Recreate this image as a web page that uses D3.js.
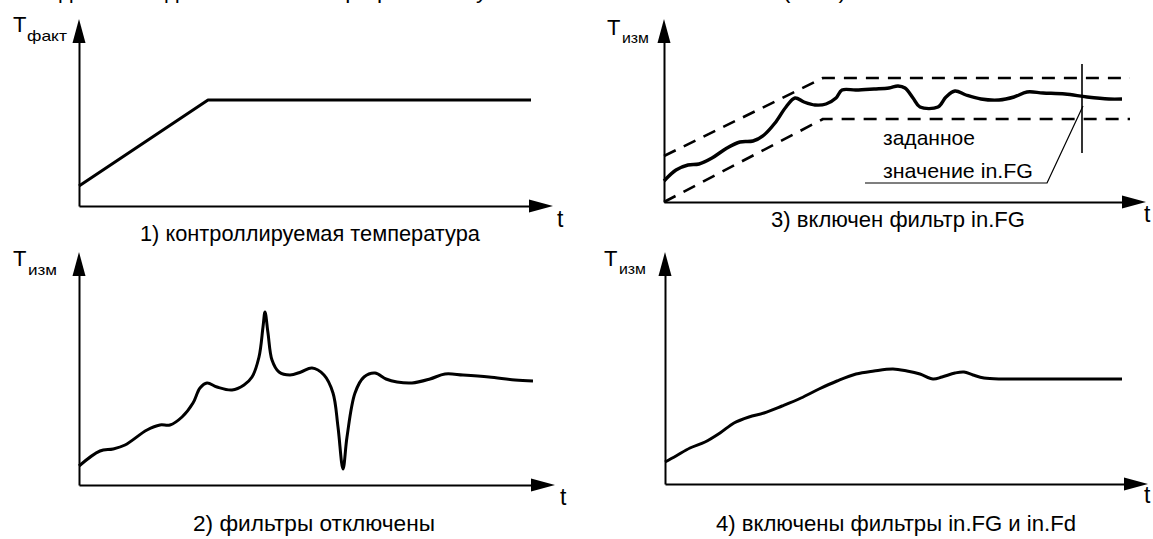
<!DOCTYPE html>
<html><head><meta charset="utf-8">
<script src="https://cdn.jsdelivr.net/npm/d3@7"></script>
<style>
html,body{margin:0;padding:0;background:#fff;overflow:hidden}
svg{display:block}
text{font-family:"Liberation Sans Narrow","Liberation Sans",Arial,sans-serif;fill:#000}
</style>
</head><body>
<svg id="c" width="1153" height="539"></svg>
<script>
// ---------- texts ----------
const heading = "Поведение входной величины при работе и усилении сигнала в каналах (ТРМ)";
const captions = ["1) контроллируемая температура", "2) фильтры отключены", "3) включен фильтр in.FG", "4) включены фильтры in.FG и in.Fd"];
const yAxisMain = ["T", "T", "T", "T"];
const yAxisSub = ["факт", "изм", "изм", "изм"];
const xAxisLabel = "t";
const noteLines = ["заданное", "значение in.FG"];

// ---------- data: [t, T] in panel units ----------
const p1Actual = [[0,20],[129,106],[452,106]];
const p2Raw = [[0,19],[21,34],[34,36],[46,40],[68,55],[81,60],[91,60],[103,68],[114,82],[121,97],[128,102],[138,98],[153,95],[165,100],[173,108],[180,128],[184,158],[186,173],[189,152],[193,125],[200,113],[211,110],[222,113],[233,117],[245,110],[254,92],[259,58],[264,16],[268,48],[276,92],[285,108],[296,112],[307,106],[318,103],[333,102],[351,106],[366,111],[384,110],[410,108],[436,105],[454,104]];
const p3Filtered = [[0,21],[12,32],[24,37],[35,38],[48,44],[63,54],[76,60],[89,61],[100,67],[111,79],[122,95],[131,104],[140,100],[151,97],[162,98],[172,104],[178,112],[192,112],[210,113],[225,114],[234,116],[241,114],[249,104],[256,95],[274,95],[282,105],[291,111],[302,107],[317,103],[335,102],[350,105],[363,110],[379,109],[401,108],[423,105],[445,103],[458,103]];
const p3BandUpper = [[0,46],[159,124],[466,124]];
const p3BandLower = [[0,0],[159,83],[466,83]];
const p3MarkerT = 418;
const p3MarkerSpan = [49,138];
const p3Leader = [[201,19],[383,19],[419,96]];
const p4Filtered = [[0,22],[11,28],[25,36],[40,42],[55,51],[69,61],[84,67],[99,71],[117,78],[136,86],[154,95],[172,103],[191,110],[209,113],[228,115],[242,113],[255,110],[268,105],[277,107],[290,111],[299,112],[308,109],[319,106],[338,105],[375,105],[411,105],[457,105]];

// ---------- layout ----------
const layout = [
  {x0:79, y0:206, xTip:553, yTip:19, T:[13,32], sub:[27,41,40], t:[557,227], cap:[140,241,340]},
  {x0:79, y0:485, xTip:555, yTip:252, T:[13,266], sub:[28,275,29], t:[560,505], cap:[193,531,242]},
  {x0:664, y0:202, xTip:1146, yTip:19, T:[607,35], sub:[622,43,27], t:[1144,222], cap:[771,227,254]},
  {x0:665, y0:484, xTip:1148, yTip:252, T:[604,266], sub:[619,274,27], t:[1144,503], cap:[716,531,360]}
];
const ARROW_L = 24, ARROW_W = 6.5;

const svg = d3.select("#c");

function fitText(sel, w){ sel.attr("textLength", w).attr("lengthAdjust", "spacingAndGlyphs"); }

// heading (cropped at the top edge of the picture, only descenders show)
svg.append("text").attr("x", 6).attr("y", -2).attr("font-size", 22).text(heading)
  .call(fitText, 840);

const scales = layout.map((L, i) => {
  const x = d3.scaleLinear().domain([0, L.xTip - L.x0]).range([L.x0, L.xTip]);
  const y = d3.scaleLinear().domain([0, L.y0 - L.yTip]).range([L.y0, L.yTip]);
  const g = svg.append("g");
  const xa = x.copy().range([L.x0, L.xTip - ARROW_L + 3]);
  const ya = y.copy().range([L.y0, L.yTip + ARROW_L - 3]);
  g.append("g").attr("transform", `translate(0,${L.y0})`)
    .call(d3.axisBottom(xa).tickValues([]).tickSizeOuter(0))
    .call(s => s.select(".domain").attr("stroke", "#000").attr("stroke-width", 2));
  g.append("g").attr("transform", `translate(${L.x0},0)`)
    .call(d3.axisLeft(ya).tickValues([]).tickSizeOuter(0))
    .call(s => s.select(".domain").attr("stroke", "#000").attr("stroke-width", 2));
  const xt = x(x.domain()[1]), yt = y(y.domain()[1]);
  g.append("path").attr("fill", "#000")
    .attr("d", `M${xt},${L.y0}L${xt - ARROW_L},${L.y0 - ARROW_W}L${xt - ARROW_L},${L.y0 + ARROW_W}Z`);
  g.append("path").attr("fill", "#000")
    .attr("d", `M${L.x0},${yt}L${L.x0 - ARROW_W},${yt + ARROW_L}L${L.x0 + ARROW_W},${yt + ARROW_L}Z`);
  g.append("text").attr("x", L.T[0]).attr("y", L.T[1]).attr("font-size", 22).text(yAxisMain[i]);
  g.append("text").attr("x", L.sub[0]).attr("y", L.sub[1]).attr("font-size", 15).text(yAxisSub[i]).call(fitText, L.sub[2]);
  g.append("text").attr("x", L.t[0]).attr("y", L.t[1]).attr("font-size", 23).text(xAxisLabel);
  g.append("text").attr("x", L.cap[0]).attr("y", L.cap[1]).attr("font-size", 22).text(captions[i]).call(fitText, L.cap[2]);
  return {x, y, g};
});

function draw(k, data, curve, width, dash){
  const {x, y, g} = scales[k];
  const line = d3.line().x(d => x(d[0])).y(d => y(d[1])).curve(curve);
  const p = g.append("path").datum(data).attr("d", line).attr("fill", "none")
    .attr("stroke", "#000").attr("stroke-width", width)
    .attr("stroke-linejoin", "round").attr("stroke-linecap", "butt");
  if (dash) p.attr("stroke-dasharray", dash);
  return p;
}

const smooth = d3.curveCatmullRom.alpha(0.5);

draw(0, p1Actual, d3.curveLinear, 3);
draw(1, p2Raw, smooth, 3);
draw(2, p3BandUpper, d3.curveLinear, 2.6, "13,9");
draw(2, p3BandLower, d3.curveLinear, 2.6, "13,9");
draw(2, p3Filtered, smooth, 3.4);
{
  const {x, y, g} = scales[2];
  g.append("line").attr("x1", x(p3MarkerT)).attr("x2", x(p3MarkerT))
    .attr("y1", y(p3MarkerSpan[0])).attr("y2", y(p3MarkerSpan[1]))
    .attr("stroke", "#000").attr("stroke-width", 1.6);
  draw(2, p3Leader, d3.curveLinear, 1.2);
  g.append("text").attr("x", 883).attr("y", 145).attr("font-size", 21).text(noteLines[0]).call(fitText, 92);
  g.append("text").attr("x", 883).attr("y", 178).attr("font-size", 21).text(noteLines[1]).call(fitText, 150);
}
draw(3, p4Filtered, smooth, 3);
</script>
</body></html>
